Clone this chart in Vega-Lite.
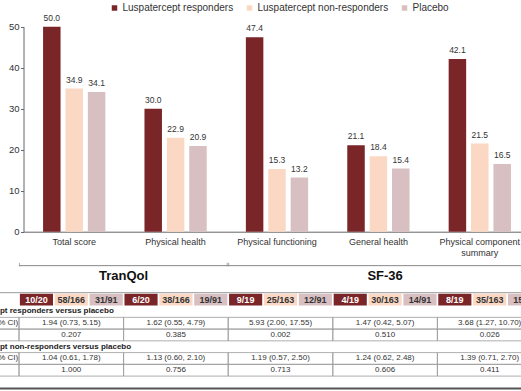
{
  "$schema": "https://vega.github.io/schema/vega-lite/v6.json",
  "width": 497.5,
  "height": 231.7,
  "autosize": {"type": "none"},
  "padding": {"left": 23.5, "top": 0, "right": 0, "bottom": 159.3},
  "config": {
    "view": {"stroke": null},
    "font": "Liberation Sans"
  },
  "datasets": {
    "bars": [
      {"measure": "Total score", "series": "Luspatercept responders", "value": 50.0},
      {"measure": "Total score", "series": "Luspatercept non-responders", "value": 34.9},
      {"measure": "Total score", "series": "Placebo", "value": 34.1},
      {"measure": "Physical health", "series": "Luspatercept responders", "value": 30.0},
      {"measure": "Physical health", "series": "Luspatercept non-responders", "value": 22.9},
      {"measure": "Physical health", "series": "Placebo", "value": 20.9},
      {"measure": "Physical functioning", "series": "Luspatercept responders", "value": 47.4},
      {"measure": "Physical functioning", "series": "Luspatercept non-responders", "value": 15.3},
      {"measure": "Physical functioning", "series": "Placebo", "value": 13.2},
      {"measure": "General health", "series": "Luspatercept responders", "value": 21.1},
      {"measure": "General health", "series": "Luspatercept non-responders", "value": 18.4},
      {"measure": "General health", "series": "Placebo", "value": 15.4},
      {"measure": "Physical component summary", "series": "Luspatercept responders", "value": 42.1},
      {"measure": "Physical component summary", "series": "Luspatercept non-responders", "value": 21.5},
      {"measure": "Physical component summary", "series": "Placebo", "value": 16.5}
    ],
    "counts": [
      {"measure": "Total score", "series": "Luspatercept responders", "row": "counts", "count": "10/20"},
      {"measure": "Total score", "series": "Luspatercept non-responders", "row": "counts", "count": "58/166"},
      {"measure": "Total score", "series": "Placebo", "row": "counts", "count": "31/91"},
      {"measure": "Physical health", "series": "Luspatercept responders", "row": "counts", "count": "6/20"},
      {"measure": "Physical health", "series": "Luspatercept non-responders", "row": "counts", "count": "38/166"},
      {"measure": "Physical health", "series": "Placebo", "row": "counts", "count": "19/91"},
      {"measure": "Physical functioning", "series": "Luspatercept responders", "row": "counts", "count": "9/19"},
      {"measure": "Physical functioning", "series": "Luspatercept non-responders", "row": "counts", "count": "25/163"},
      {"measure": "Physical functioning", "series": "Placebo", "row": "counts", "count": "12/91"},
      {"measure": "General health", "series": "Luspatercept responders", "row": "counts", "count": "4/19"},
      {"measure": "General health", "series": "Luspatercept non-responders", "row": "counts", "count": "30/163"},
      {"measure": "General health", "series": "Placebo", "row": "counts", "count": "14/91"},
      {"measure": "Physical component summary", "series": "Luspatercept responders", "row": "counts", "count": "8/19"},
      {"measure": "Physical component summary", "series": "Luspatercept non-responders", "row": "counts", "count": "35/163"},
      {"measure": "Physical component summary", "series": "Placebo", "row": "counts", "count": "15/91"}
    ],
    "stats": [
      {"measure": "Total score", "row": "or1", "text": "1.94 (0.73, 5.15)"},
      {"measure": "Physical health", "row": "or1", "text": "1.62 (0.55, 4.79)"},
      {"measure": "Physical functioning", "row": "or1", "text": "5.93 (2.00, 17.55)"},
      {"measure": "General health", "row": "or1", "text": "1.47 (0.42, 5.07)"},
      {"measure": "Physical component summary", "row": "or1", "text": "3.68 (1.27, 10.70)"},
      {"measure": "Total score", "row": "p1", "text": "0.207"},
      {"measure": "Physical health", "row": "p1", "text": "0.385"},
      {"measure": "Physical functioning", "row": "p1", "text": "0.002"},
      {"measure": "General health", "row": "p1", "text": "0.510"},
      {"measure": "Physical component summary", "row": "p1", "text": "0.026"},
      {"measure": "Total score", "row": "or2", "text": "1.04 (0.61, 1.78)"},
      {"measure": "Physical health", "row": "or2", "text": "1.13 (0.60, 2.10)"},
      {"measure": "Physical functioning", "row": "or2", "text": "1.19 (0.57, 2.50)"},
      {"measure": "General health", "row": "or2", "text": "1.24 (0.62, 2.48)"},
      {"measure": "Physical component summary", "row": "or2", "text": "1.39 (0.71, 2.70)"},
      {"measure": "Total score", "row": "p2", "text": "1.000"},
      {"measure": "Physical health", "row": "p2", "text": "0.756"},
      {"measure": "Physical functioning", "row": "p2", "text": "0.713"},
      {"measure": "General health", "row": "p2", "text": "0.606"},
      {"measure": "Physical component summary", "row": "p2", "text": "0.411"}
    ],
    "rowlabels": [
      {"measure": "Label", "row": "or1", "text": "Odds ratio (95% CI)"},
      {"measure": "Label", "row": "p1", "text": "P value"},
      {"measure": "Label", "row": "or2", "text": "Odds ratio (95% CI)"},
      {"measure": "Label", "row": "p2", "text": "P value"}
    ],
    "sections": [
      {"measure": "Label", "row": "sec1", "text": "Luspatercept responders versus placebo"},
      {"measure": "Label", "row": "sec2", "text": "Luspatercept non-responders versus placebo"}
    ],
    "brackets": [
      {"label": "TranQol", "row": "bracket", "from": "Total score", "to": "Physical health"},
      {"label": "SF-36", "row": "bracket", "from": "Physical functioning", "to": "Physical component summary"}
    ],
    "titles": [
      {"label": "TranQol", "row": "title", "measure": "Physical health"},
      {"label": "SF-36", "row": "title", "measure": "General health"}
    ],
    "frame": [
      {"edge": "top", "row": "counts", "from": "Label", "to": "Physical component summary"},
      {"edge": "bottom", "row": "end", "from": "Label", "to": "Physical component summary"}
    ]
  },
  "layer": [
    {
      "data": {"name": "bars"},
      "layer": [
        {
          "mark": {"type": "bar"},
          "encoding": {
            "x": {
              "field": "measure", "type": "nominal",
              "scale": {
                "domain": ["Total score", "Physical health", "Physical functioning", "General health", "Physical component summary"],
                "range": [0, 507], "paddingInner": 0.386, "paddingOuter": 0.193
              },
              "axis": {
                "title": null, "ticks": false, "labelAngle": 0, "labelFontSize": 9, "labelColor": "#333",
                "labelPadding": 6, "domainColor": "#666", "labelLimit": 300, "labelLineHeight": 10.5,
                "labelExpr": "datum.label == 'Physical component summary' ? ['Physical component', 'summary'] : datum.label"
              }
            },
            "xOffset": {
              "field": "series", "type": "nominal",
              "scale": {"domain": ["Luspatercept responders", "Luspatercept non-responders", "Placebo"], "paddingInner": 0.219, "paddingOuter": 0}
            },
            "y": {
              "field": "value", "type": "quantitative",
              "scale": {"domain": [0, 50], "range": [231.7, 26.7], "nice": false},
              "axis": {
                "title": null, "values": [0, 10, 20, 30, 40, 50], "grid": false, "tickSize": 3, "labelPadding": 1.5,
                "domainColor": "#666", "tickColor": "#666", "labelFontSize": 9.5, "labelColor": "#333"
              }
            },
            "color": {
              "field": "series", "type": "nominal",
              "scale": {
                "domain": ["Luspatercept responders", "Luspatercept non-responders", "Placebo"],
                "range": ["#7a2528", "#fad8c3", "#d8bfc1"]
              },
              "legend": {
                "title": null, "orient": "none", "direction": "horizontal", "legendX": 86, "legendY": 3,
                "symbolType": "square", "symbolSize": 30, "symbolStrokeWidth": 0, "labelFontSize": 10,
                "labelColor": "#333", "labelOffset": 3, "columnPadding": 11, "padding": 0, "labelLimit": 300
              }
            }
          }
        },
        {
          "mark": {"type": "text", "baseline": "bottom", "dy": -4, "fontSize": 8.5, "color": "#333"},
          "encoding": {
            "x": {"field": "measure", "type": "nominal"},
            "xOffset": {"field": "series", "type": "nominal"},
            "y": {"field": "value", "type": "quantitative"},
            "text": {"field": "value", "type": "quantitative", "format": ".1f"}
          }
        }
      ]
    },
    {
      "layer": [
        {
          "data": {"name": "stats"},
          "mark": {"type": "rect", "fill": "transparent", "stroke": "#9a9a9a", "strokeWidth": 0.8},
          "encoding": {
            "x": {
              "field": "measure", "type": "nominal",
              "scale": {
                "domain": ["Label", "Total score", "Physical health", "Physical functioning", "General health", "Physical component summary"],
                "range": [-109.1, 518.5], "paddingInner": 0, "paddingOuter": 0
              },
              "axis": null
            },
            "y": {
              "field": "row", "type": "nominal",
              "scale": {
                "domain": ["bracket", "title", "gap", "counts", "sec1", "or1", "p1", "sec2", "or2", "p2", "end"],
                "range": [258.6, 387.85], "paddingInner": 0, "paddingOuter": 0
              },
              "axis": null
            }
          }
        },
        {
          "data": {"name": "rowlabels"},
          "mark": {"type": "rect", "fill": "transparent", "stroke": "#9a9a9a", "strokeWidth": 0.8},
          "encoding": {
            "x": {"field": "measure", "type": "nominal"},
            "y": {"field": "row", "type": "nominal"}
          }
        },
        {
          "data": {"name": "counts"},
          "mark": {"type": "rect"},
          "encoding": {
            "x": {"field": "measure", "type": "nominal"},
            "xOffset": {
              "field": "series", "type": "nominal",
              "scale": {"domain": ["Luspatercept responders", "Luspatercept non-responders", "Placebo"], "paddingInner": 0.05, "paddingOuter": 0.025}
            },
            "y": {"field": "row", "type": "nominal"},
            "color": {"field": "series", "type": "nominal"}
          }
        },
        {
          "data": {"name": "counts"},
          "mark": {"type": "text", "fontSize": 9, "fontWeight": "bold"},
          "encoding": {
            "x": {"field": "measure", "type": "nominal"},
            "xOffset": {"field": "series", "type": "nominal"},
            "y": {"field": "row", "type": "nominal"},
            "text": {"field": "count", "type": "nominal"},
            "color": {"condition": {"test": "datum.series === 'Luspatercept responders'", "value": "white"}, "value": "#333"}
          }
        },
        {
          "data": {"name": "stats"},
          "mark": {"type": "text", "fontSize": 8, "color": "#333"},
          "encoding": {
            "x": {"field": "measure", "type": "nominal"},
            "y": {"field": "row", "type": "nominal"},
            "text": {"field": "text", "type": "nominal"}
          }
        },
        {
          "data": {"name": "rowlabels"},
          "mark": {"type": "text", "fontSize": 8, "color": "#333", "align": "left"},
          "encoding": {
            "x": {"field": "measure", "type": "nominal", "bandPosition": 0.317},
            "y": {"field": "row", "type": "nominal"},
            "text": {"field": "text", "type": "nominal"}
          }
        },
        {
          "data": {"name": "sections"},
          "mark": {"type": "text", "fontSize": 8, "fontWeight": "bold", "color": "#222", "align": "left"},
          "encoding": {
            "x": {"field": "measure", "type": "nominal", "bandPosition": 0.41},
            "y": {"field": "row", "type": "nominal"},
            "text": {"field": "text", "type": "nominal"}
          }
        },
        {
          "data": {"name": "brackets"},
          "mark": {"type": "rule", "color": "#888", "strokeWidth": 1},
          "encoding": {
            "x": {"field": "from", "type": "nominal", "bandPosition": 0},
            "x2": {"field": "to", "bandPosition": 1},
            "y": {"field": "row", "type": "nominal", "bandPosition": 0.6}
          }
        },
        {
          "data": {"name": "brackets"},
          "mark": {"type": "tick", "orient": "vertical", "size": 3.5, "thickness": 1, "color": "#888"},
          "encoding": {
            "x": {"field": "from", "type": "nominal", "bandPosition": 0.004},
            "y": {"field": "row", "type": "nominal", "bandPosition": 0.45}
          }
        },
        {
          "data": {"name": "brackets"},
          "mark": {"type": "tick", "orient": "vertical", "size": 3.5, "thickness": 1, "color": "#888"},
          "encoding": {
            "x": {"field": "to", "type": "nominal", "bandPosition": 0.99},
            "y": {"field": "row", "type": "nominal", "bandPosition": 0.45}
          }
        },
        {
          "data": {"name": "titles"},
          "transform": [{"filter": "datum.label === 'TranQol'"}],
          "mark": {"type": "text", "fontSize": 13, "fontWeight": "bold", "color": "#111"},
          "encoding": {
            "x": {"field": "measure", "type": "nominal", "bandPosition": 0},
            "y": {"field": "row", "type": "nominal"},
            "text": {"field": "label", "type": "nominal"}
          }
        },
        {
          "data": {"name": "titles"},
          "transform": [{"filter": "datum.label === 'SF-36'"}],
          "mark": {"type": "text", "fontSize": 13, "fontWeight": "bold", "color": "#111"},
          "encoding": {
            "x": {"field": "measure", "type": "nominal", "bandPosition": 0.5},
            "y": {"field": "row", "type": "nominal"},
            "text": {"field": "label", "type": "nominal"}
          }
        },
        {
          "data": {"name": "frame"},
          "transform": [{"filter": "datum.edge === 'top'"}],
          "mark": {"type": "rule", "color": "#9a9a9a", "strokeWidth": 1},
          "encoding": {
            "x": {"field": "from", "type": "nominal", "bandPosition": 0},
            "x2": {"field": "to", "bandPosition": 1},
            "y": {"field": "row", "type": "nominal", "bandPosition": -0.1}
          }
        },
        {
          "data": {"name": "frame"},
          "transform": [{"filter": "datum.edge === 'bottom'"}],
          "mark": {"type": "rule", "color": "#555", "strokeWidth": 2},
          "encoding": {
            "x": {"field": "from", "type": "nominal", "bandPosition": 0},
            "x2": {"field": "to", "bandPosition": 1},
            "y": {"field": "row", "type": "nominal", "bandPosition": 1.05}
          }
        }
      ]
    }
  ],
  "resolve": {
    "scale": {"x": "independent", "y": "independent", "xOffset": "independent"},
    "axis": {"x": "independent", "y": "independent"}
  }
}
